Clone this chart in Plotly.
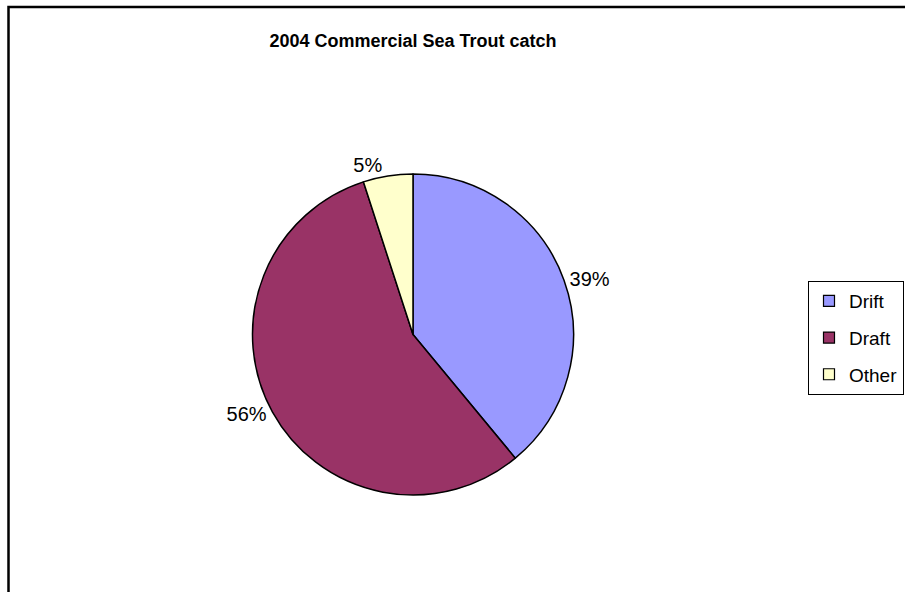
import plotly.graph_objects as go

# Catch share by gear type, 2004 (percent)
gear_types = ["Drift", "Draft", "Other"]
catch_share = [39, 56, 5]
slice_colors = ["#9999FF", "#993366", "#FFFFCC"]

W, H = 905, 592
FONT = "Arial, 'Liberation Sans', sans-serif"

fig = go.Figure()

fig.add_trace(go.Pie(
    labels=gear_types,
    values=catch_share,
    sort=False,
    direction="clockwise",
    rotation=0,
    marker=dict(colors=slice_colors, line=dict(color="black", width=1.5)),
    textposition="outside",
    texttemplate="%{value}%",
    textfont=dict(family=FONT, size=20, color="black"),
    showlegend=False,
    automargin=False,
    domain=dict(x=[252.5 / W, 573.5 / W], y=[(H - 495) / H, (H - 174) / H]),
    hoverinfo="label+percent",
))

# Legend entries, one group per gear type so the rows can be spaced out
for name, color in zip(gear_types, slice_colors):
    fig.add_trace(go.Scatter(
        x=[None], y=[None], mode="markers", name=name, legendgroup=name,
        marker=dict(symbol="square", size=11, color=color,
                    line=dict(color="black", width=1.2)),
    ))

# Chart-area frame
fig.add_shape(type="rect", xref="paper", yref="paper",
              x0=8.5 / W, x1=1.02, y0=-0.02, y1=(H - 7) / H,
              line=dict(color="black", width=2.5), fillcolor="rgba(0,0,0,0)")

fig.update_layout(
    width=W, height=H,
    margin=dict(l=0, r=0, t=0, b=0),
    paper_bgcolor="white", plot_bgcolor="white",
    font=dict(family=FONT, color="black"),
    title=dict(text="<b>2004 Commercial Sea Trout catch</b>",
               x=413 / W, xanchor="center", y=(H - 41) / H, yanchor="middle",
               yref="container", xref="container",
               font=dict(family=FONT, size=18, color="black")),
    xaxis=dict(visible=False), yaxis=dict(visible=False),
    legend=dict(x=808 / W, xanchor="left", y=(H - 281) / H, yanchor="top",
                bordercolor="black", borderwidth=1, bgcolor="white",
                font=dict(family=FONT, size=19, color="black"),
                traceorder="grouped", tracegroupgap=9,
                itemclick=False, itemdoubleclick=False),
    showlegend=True,
)

fig.write_html("out.html")
